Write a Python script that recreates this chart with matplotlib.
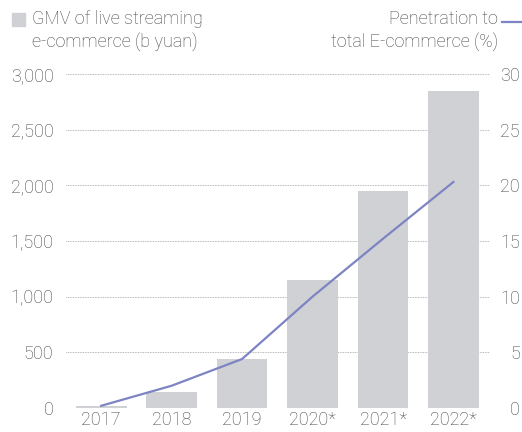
import numpy as np
import matplotlib
matplotlib.use("Agg")
import matplotlib.pyplot as plt
from matplotlib.lines import Line2D
from matplotlib.patches import Rectangle
from matplotlib.ticker import FuncFormatter

# Live streaming e-commerce in China
years = ["2017", "2018", "2019", "2020*", "2021*", "2022*"]
gmv = [20, 145, 440, 1150, 1950, 2850]          # b yuan
penetration = [0.2, 2.0, 4.4, 10.0, 15.2, 20.3]  # % of total e-commerce

bar_color = "#d0d1d4"
line_color = "#7d84c2"
text_color = "#444444"
grid_color = "#a0a0a0"

plt.rcParams["font.family"] = ["Roboto", "DejaVu Sans"]
plt.rcParams["font.weight"] = "light"

fig = plt.figure(figsize=(5.22, 4.32), dpi=100)
ax = fig.add_axes([66 / 522, 1 - 408 / 432, 424 / 522, 334 / 432])
ax2 = ax.twinx()

x = np.arange(len(years))
ax.bar(x, gmv, width=0.72, color=bar_color, zorder=2)
ax.set_xlim(-0.5, 5.52)
ax.set_ylim(0, 3000)
ax.set_yticks(np.arange(0, 3001, 500))
ax.yaxis.set_major_formatter(FuncFormatter(lambda v, p: f"{int(v):,}"))
ax.grid(axis="y", linestyle=(0, (1, 1)), linewidth=0.6, color=grid_color, zorder=0)
ax.set_axisbelow(True)
ax.set_xticks(x)
ax.set_xticklabels(years)
ax.tick_params(axis="both", length=0, labelsize=13, colors=text_color)
ax.tick_params(axis="y", pad=9)
ax.tick_params(axis="x", pad=2)
for s in ax.spines.values():
    s.set_visible(False)

ax2.plot(x, penetration, color=line_color, linewidth=1.6, zorder=3)
ax2.set_ylim(0, 30)
ax2.set_yticks(np.arange(0, 31, 5))
ax2.tick_params(axis="y", length=0, labelsize=13, colors=text_color, pad=21.6)
for lbl in ax2.get_yticklabels():
    lbl.set_horizontalalignment("right")
for s in ax2.spines.values():
    s.set_visible(False)

# legend-style header
fig.patches.append(Rectangle((12 / 522, 1 - 26 / 432), 13 / 522, 13 / 432,
                             transform=fig.transFigure, color=bar_color))
fig.text(32 / 522, 1 - 19 / 432, "GMV of live streaming", fontsize=13,
         color=text_color, va="center", ha="left")
fig.text(32 / 522, 1 - 42 / 432, "e-commerce (b yuan)", fontsize=13,
         color=text_color, va="center", ha="left")
fig.text(498 / 522, 1 - 19 / 432, "Penetration to", fontsize=13,
         color=text_color, va="center", ha="right")
fig.text(498 / 522, 1 - 42 / 432, "total E-commerce (%)", fontsize=13,
         color=text_color, va="center", ha="right")
fig.lines.append(Line2D([502 / 522, 522 / 522], [1 - 22 / 432, 1 - 22 / 432],
                        transform=fig.transFigure, color=line_color, linewidth=1.6))

fig.savefig("out.png", dpi=100)
